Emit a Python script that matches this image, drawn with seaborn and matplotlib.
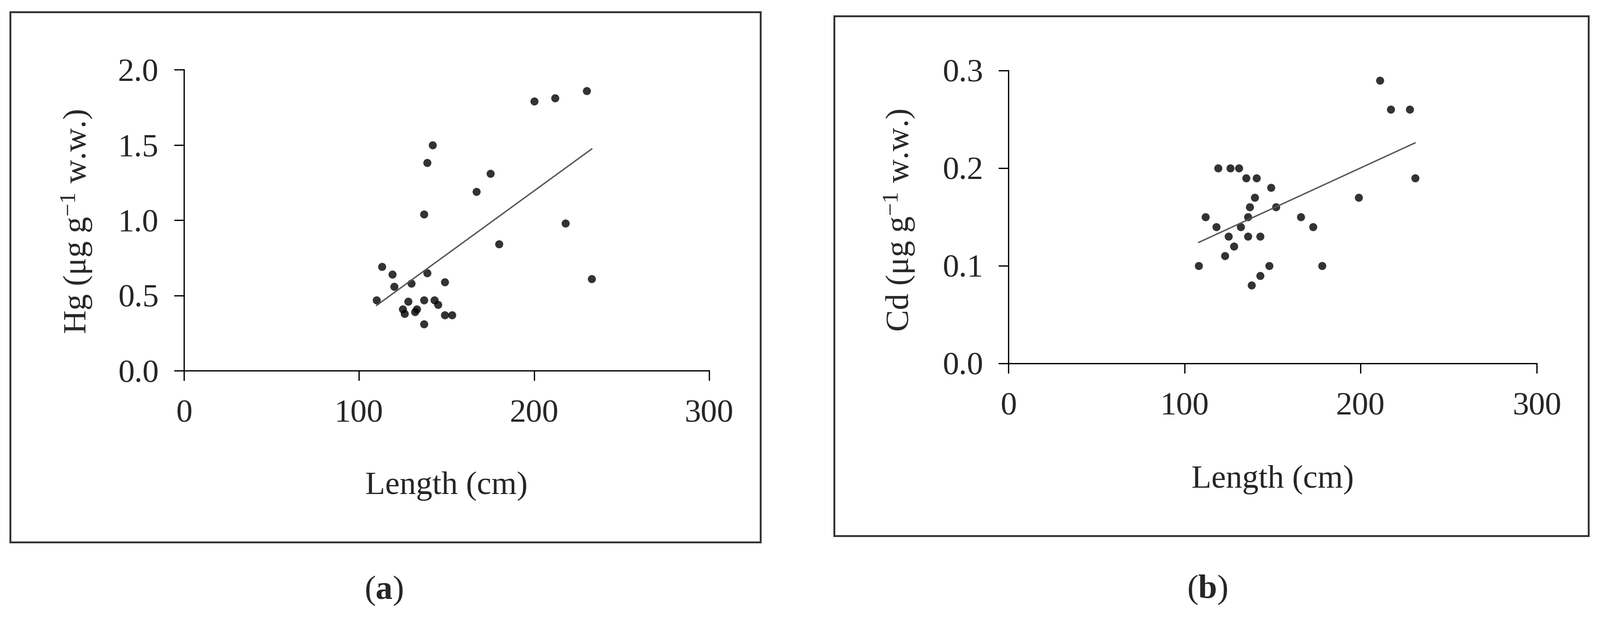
import numpy as np
import pandas as pd
import matplotlib
matplotlib.use("Agg")
import matplotlib.pyplot as plt
from matplotlib.patches import Rectangle
import seaborn as sns

# DATA

hg_length = [230, 212, 200, 142, 139, 175, 167, 137, 218, 180, 233, 113, 119, 139, 120,
             130, 149, 110, 128, 137, 143, 145, 125, 133, 126, 132, 149, 153, 137]
hg_conc = [1.86, 1.81, 1.79, 1.50, 1.38, 1.31, 1.19, 1.04, 0.98, 0.84, 0.61, 0.69, 0.64, 0.65, 0.56,
           0.58, 0.59, 0.47, 0.46, 0.47, 0.47, 0.44, 0.41, 0.41, 0.38, 0.39, 0.37, 0.37, 0.31]

cd_length = [211, 217, 228, 231, 199, 119, 126, 131, 135, 141, 149, 140, 137, 152, 112,
             136, 166, 118, 132, 173, 125, 136, 143, 128, 123, 108, 148, 178, 143, 138]
cd_conc = [0.29, 0.26, 0.26, 0.19, 0.17, 0.20, 0.20, 0.20, 0.19, 0.19, 0.18, 0.17, 0.16, 0.16, 0.15,
           0.15, 0.15, 0.14, 0.14, 0.14, 0.13, 0.13, 0.13, 0.12, 0.11, 0.10, 0.10, 0.10, 0.09, 0.08]

x_ticks = [0, 100, 200, 300]
hg_ticks = [0.0, 0.5, 1.0, 1.5, 2.0]
cd_ticks = [0.0, 0.1, 0.2, 0.3]

hg_df = pd.DataFrame({"length": hg_length, "conc": hg_conc})
cd_df = pd.DataFrame({"length": cd_length, "conc": cd_conc})

# STYLE

sns.set_style("ticks")
plt.rcParams["font.family"] = ["Liberation Serif", "DejaVu Serif"]
plt.rcParams["mathtext.fontset"] = "custom"
plt.rcParams["mathtext.rm"] = "Liberation Serif"
plt.rcParams["mathtext.bf"] = "Liberation Serif:bold"
plt.rcParams["mathtext.default"] = "regular"

FS = 52

fig = plt.figure(figsize=(35.41, 13.85), dpi=100)
fig.patch.set_facecolor("white")

# panel frames
fig.patches.append(Rectangle((0.0065, 0.1336), 0.4688, 0.8469, transform=fig.transFigure,
                             fill=False, edgecolor="#333333", linewidth=3))
fig.patches.append(Rectangle((0.5213, 0.1437), 0.4713, 0.8303, transform=fig.transFigure,
                             fill=False, edgecolor="#333333", linewidth=3))

ax1 = fig.add_axes([0.1149, 0.4079, 0.3282, 0.4809])
ax2 = fig.add_axes([0.6300, 0.4195, 0.3302, 0.4679])

panels = [
    (ax1, hg_df, hg_ticks, r"Hg (μg g$^{-1}$ w.w.)", (-0.204, 0.494), -0.383),
    (ax2, cd_df, cd_ticks, r"Cd (μg g$^{-1}$ w.w.)", (-0.206, 0.488), -0.397),
]

for ax, df, yt, ylab, ylab_pos, xlab_y in panels:
    sns.regplot(data=df, x="length", y="conc", ax=ax, ci=None, truncate=True,
                scatter_kws={"s": 165, "color": "black", "linewidths": 0},
                line_kws={"color": "#555555", "linewidth": 2.2})
    ax.set_xlim(0, 300)
    ax.set_ylim(yt[0], yt[-1])
    ax.set_xticks(x_ticks)
    ax.set_yticks(yt)
    ax.set_xticklabels([str(v) for v in x_ticks])
    ax.set_yticklabels([f"{v:.1f}" for v in yt])
    ax.tick_params(axis="both", direction="out", length=16, width=2, labelsize=FS, color="black")
    ax.tick_params(axis="x", pad=30)
    ax.tick_params(axis="y", pad=24)
    for s in ["top", "right"]:
        ax.spines[s].set_visible(False)
    for s in ["left", "bottom"]:
        ax.spines[s].set_linewidth(2)
        ax.spines[s].set_color("black")
    ax.set_xlabel("Length (cm)", fontsize=FS)
    ax.set_ylabel(ylab, fontsize=FS)
    ax.xaxis.set_label_coords(0.5, xlab_y)
    ax.xaxis.label.set_va("center")
    ax.yaxis.set_label_coords(*ylab_pos)
    ax.yaxis.label.set_va("center")
    ax.set_facecolor("white")

fig.text(0.2398, 0.0563, r"($\mathbf{a}$)", fontsize=54, ha="center", va="center")
fig.text(0.7543, 0.0578, r"($\mathbf{b}$)", fontsize=54, ha="center", va="center")

fig.savefig("out.png", dpi=100, facecolor="white")
